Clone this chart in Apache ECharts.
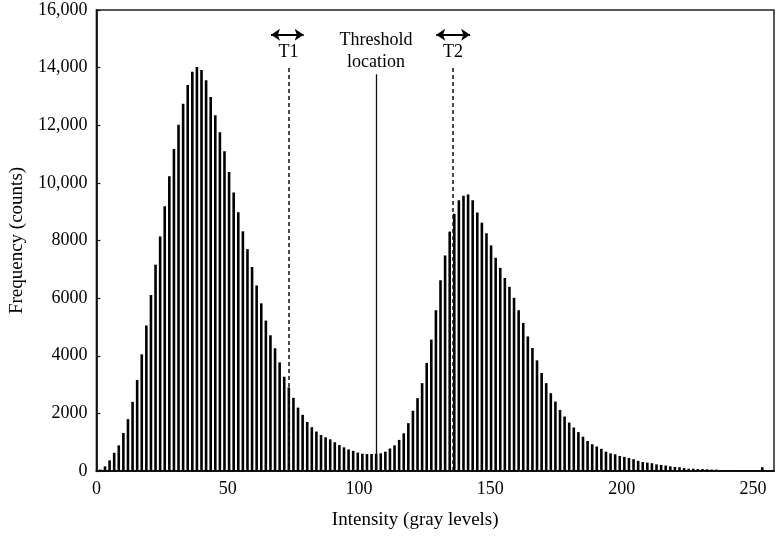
<!DOCTYPE html>
<html>
<head>
<meta charset="utf-8">
<script src="https://cdn.jsdelivr.net/npm/echarts@6/dist/echarts.min.js"></script>
<style>
    html, body { margin: 0; padding: 0; background: #fff; }
    #main { width: 784px; height: 541px; }
</style>
</head>
<body>
<div id="main"></div>
<script>
    // histogram bins (gray level of first bin, step between bins)
    var binStart = 1.52;
    var binWidth = 1.75;
    // counts per bin
    var counts = [
        50, 160, 370, 630, 890, 1320, 1800, 2400, 3160, 4050,
        5050, 6110, 7160, 8140, 9190, 10230, 11180, 12020, 12750, 13400,
        13860, 14020, 13920, 13560, 12980, 12350, 11760, 11100, 10380, 9670,
        8980, 8320, 7700, 7080, 6440, 5820, 5220, 4710, 4260, 3770,
        3270, 2900, 2540, 2200, 1950, 1700, 1520, 1370, 1250, 1170,
        1100, 1000, 900, 820, 750, 700, 640, 600, 590, 590,
        600, 615, 670, 780, 890, 1080, 1310, 1660, 2090, 2530,
        3050, 3750, 4560, 5580, 6620, 7480, 8310, 8930, 9400, 9550,
        9600, 9400, 8970, 8620, 8250, 7830, 7400, 7050, 6700, 6390,
        6010, 5580, 5140, 4670, 4270, 3840, 3400, 3050, 2700, 2410,
        2120, 1890, 1680, 1510, 1350, 1190, 1040, 930, 850, 770,
        670, 610, 580, 520, 490, 450, 410, 350, 310, 290,
        270, 230, 210, 190, 160, 140, 130, 100, 80, 80,
        70, 70, 60, 50, 50, 35, 35, 35, 25, 25,
        25, 20, 20, 15, 130, 10, 5
    ];
    var xTickLabels = ['0', '50', '100', '150', '200', '250'];
    var yTickLabels = ['0', '2000', '4000', '6000', '8000', '10,000', '12,000', '14,000', '16,000'];

    // threshold markers (gray level, top count)
    var t1Pos = 73.1;
    var t2Pos = 135.8;
    var thresholdPos = 106.5;
    var dashTop = 14020;
    var thresholdTop = 13770;
    var arrowY = 15140;
    var t1Arrow = [66.5, 78.9];
    var t2Arrow = [129.4, 142.3];
    var annoTexts = [
        [t1Pos, 14540, 'T1'],
        [t2Pos, 14540, 'T2'],
        [thresholdPos, 14584, 'Threshold\nlocation']
    ];

    var barData = [];
    for (var i = 0; i < counts.length; i++) {
        barData.push([binStart + i * binWidth, counts[i]]);
    }

    var fontName = '"Liberation Serif", "DejaVu Serif", serif';
    var textColor = '#000';

    var myChart = echarts.init(document.getElementById('main'));
    var option = {
        animation: false,
        backgroundColor: '#fff',
        grid: {
            left: 96, right: 10, top: 10, bottom: 70,
            show: true,
            borderColor: '#222',
            borderWidth: 1.5
        },
        xAxis: {
            type: 'value',
            min: 0,
            max: 258,
            interval: 50,
            name: 'Intensity (gray levels)',
            nameLocation: 'middle',
            nameGap: 40,
            nameTextStyle: {
                fontFamily: fontName, fontSize: 19, color: textColor,
                padding: [0, 40, 0, 0]
            },
            axisLine: { lineStyle: { color: '#111', width: 1.8 } },
            axisTick: { show: false },
            splitLine: { show: false },
            axisLabel: {
                margin: 9,
                fontFamily: fontName, fontSize: 18, color: textColor,
                formatter: function(v){
                    return v % 50 === 0 ? xTickLabels[v / 50] : '';
                }
            }
        },
        yAxis: {
            type: 'value',
            min: 0,
            max: 16000,
            interval: 2000,
            name: 'Frequency (counts)',
            nameLocation: 'middle',
            nameGap: 68,
            nameTextStyle: { fontFamily: fontName, fontSize: 19, color: textColor },
            axisLine: { show: true, lineStyle: { color: '#111', width: 1.8 } },
            axisTick: { show: true, inside: true, length: 4, lineStyle: { color: '#111', width: 1.2 } },
            splitLine: { show: false },
            axisLabel: {
                margin: 9,
                fontFamily: fontName, fontSize: 18, color: textColor,
                formatter: function(v){
                    return yTickLabels[v / 2000];
                }
            }
        },
        series: [{
            name: 'counts',
            type: 'bar',
            barWidth: 2.6,
            itemStyle: { color: '#000' },
            data: barData,
            markLine: {
                silent: true,
                symbol: ['none', 'none'],
                label: { show: false },
                z: 5,
                data: [
                    [{ coord: [t1Pos, 0], lineStyle: { color: '#111', width: 1.5, type: [4, 3] } }, { coord: [t1Pos, dashTop] }],
                    [{ coord: [t2Pos, 0], lineStyle: { color: '#111', width: 1.5, type: [4, 3] } }, { coord: [t2Pos, dashTop] }],
                    [{ coord: [thresholdPos, 0], lineStyle: { color: '#111', width: 1.3, type: 'solid' } }, { coord: [thresholdPos, thresholdTop] }],
                    [{ coord: [t1Arrow[0], arrowY], symbol: 'arrow', symbolSize: 9, lineStyle: { color: '#000', width: 2, type: 'solid' } },
                     { coord: [t1Arrow[1], arrowY], symbol: 'arrow', symbolSize: 9 }],
                    [{ coord: [t2Arrow[0], arrowY], symbol: 'arrow', symbolSize: 9, lineStyle: { color: '#000', width: 2, type: 'solid' } },
                     { coord: [t2Arrow[1], arrowY], symbol: 'arrow', symbolSize: 9 }]
                ]
            }
        }, {
            name: 'labels',
            type: 'scatter',
            symbolSize: 1,
            itemStyle: { color: 'rgba(255,255,255,0)' },
            silent: true,
            z: 10,
            label: {
                show: true,
                position: 'inside',
                fontFamily: fontName,
                fontSize: 18,
                lineHeight: 22,
                color: '#000',
                opacity: 1,
                textBorderWidth: 0,
                formatter: function(p){ return p.data[2]; }
            },
            data: annoTexts
        }]
    };
    myChart.setOption(option);
</script>
</body>
</html>
